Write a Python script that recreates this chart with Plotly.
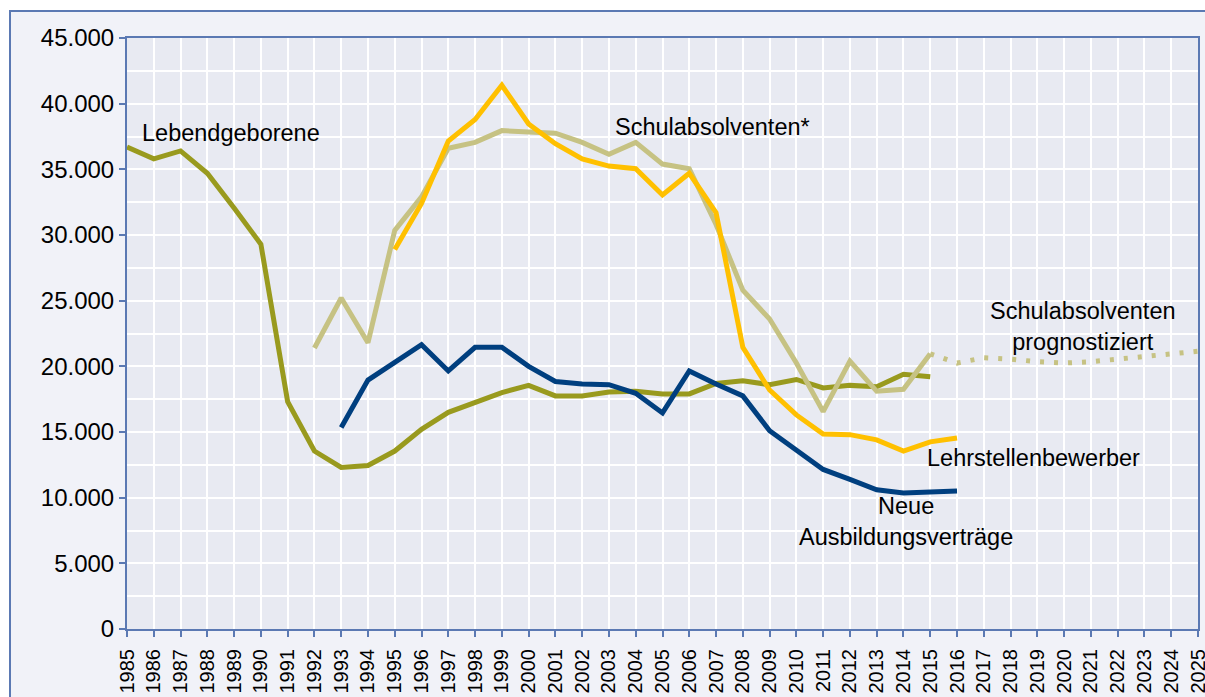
import plotly.graph_objs as go

# Jahre
years = list(range(1985, 2016))
years_prog = list(range(2015, 2026))

# Lebendgeborene 1985-2015
lebendgeborene = [36700, 35800, 36400, 34700, 32050, 29300, 17300, 13550, 12300, 12450,
                  13550, 15200, 16500, 17250, 18000, 18550, 17750, 17750, 18050, 18100,
                  17900, 17900, 18700, 18900, 18600, 19000, 18350, 18550, 18450, 19400,
                  19200]

# Schulabsolventen* 1992-2015
schul_years = list(range(1992, 2016))
schulabsolventen = [21400, 25200, 21800, 30350, 32900, 36600, 37050, 37950, 37850, 37750,
                    37050, 36150, 37050, 35400, 35050, 30800, 25800, 23600, 20250, 16550,
                    20400, 18100, 18250, 20950]

# Schulabsolventen prognostiziert 2015-2025
schul_prog = [20950, 20250, 20650, 20550, 20350, 20250, 20350, 20550, 20700, 20950, 21150]

# Lehrstellenbewerber 1995-2016
lehr_years = list(range(1995, 2017))
lehrstellenbewerber = [28900, 32400, 37150, 38800, 41400, 38450, 36950, 35800, 35250, 35050,
                       33050, 34700, 31700, 21450, 18200, 16300, 14850, 14800, 14400, 13550,
                       14250, 14550]

# Neue Ausbildungsverträge 1993-2016
neue_years = list(range(1993, 2017))
neue_vertraege = [15350, 18950, 20300, 21650, 19650, 21450, 21450, 20000, 18850, 18650,
                  18600, 17950, 16450, 19650, 18650, 17750, 15100, 13650, 12150, 11400,
                  10600, 10350, 10450, 10500]

olive = '#999A1E'
khaki = '#C6C283'
orange = '#FFC000'
navy = '#003F7F'
axis_blue = '#5B79B3'
font_fam = 'Liberation Sans, Arial, sans-serif'

data = []
data.append(go.Scatter(x=years, y=lebendgeborene, mode='lines',
                       name='Lebendgeborene', line=dict(color=olive, width=5)))
data.append(go.Scatter(x=schul_years, y=schulabsolventen, mode='lines',
                       name='Schulabsolventen*', line=dict(color=khaki, width=5)))
data.append(go.Scatter(x=years_prog, y=schul_prog, mode='lines',
                       name='Schulabsolventen prognostiziert',
                       line=dict(color=khaki, width=5, dash='4px,10px')))
data.append(go.Scatter(x=lehr_years, y=lehrstellenbewerber, mode='lines',
                       name='Lehrstellenbewerber', line=dict(color=orange, width=5)))
data.append(go.Scatter(x=neue_years, y=neue_vertraege, mode='lines',
                       name='Neue Ausbildungsverträge', line=dict(color=navy, width=5)))

# Beschriftungen direkt an den Linien
labels = [
    dict(x=1985.5, y=37800, text='Lebendgeborene', xanchor='left'),
    dict(x=2003.15, y=38250, text='Schulabsolventen*', xanchor='left'),
    dict(x=2020.7, y=23000, text='Schulabsolventen<br>prognostiziert', xanchor='center'),
    dict(x=2014.8, y=13000, text='Lehrstellenbewerber', xanchor='left'),
    dict(x=2014.1, y=8200, text='Neue<br>Ausbildungsverträge', xanchor='center'),
]
annotations = [dict(x=a['x'], y=a['y'], text=a['text'], xanchor=a['xanchor'],
                    yanchor='middle', xref='x', yref='y', showarrow=False,
                    font=dict(family=font_fam, size=23.5, color='black'))
               for a in labels]

# Rahmen und Hintergrund als Formen (px -> paper)
pw, ph = 1071.0, 591.0
shapes = [
    dict(type='rect', xref='paper', yref='paper', layer='below',
         x0=(10 - 127) / pw, x1=1.2, y0=-0.3, y1=(629 - 11) / ph,
         fillcolor='#F1F2F8', line=dict(color=axis_blue, width=2)),
    dict(type='rect', xref='paper', yref='paper', layer='below',
         x0=0, x1=1, y0=0, y1=1, fillcolor='#E8EAF2', line=dict(width=0)),
]

layout = dict(width=1205, height=697,
              margin=dict(l=127, r=7, t=38, b=68),
              paper_bgcolor='white', plot_bgcolor='rgba(0,0,0,0)',
              separators=',.',
              showlegend=False,
              font=dict(family=font_fam, color='black'),
              xaxis=dict(range=[1985, 2025], tickmode='array',
                         tickvals=list(range(1985, 2026)),
                         ticktext=[str(y) for y in range(1985, 2026)],
                         tickangle=-90, tickfont=dict(size=20),
                         ticklabelstandoff=4, ticklabeloverflow='allow',
                         automargin=False,
                         showgrid=True, gridcolor='white', gridwidth=2,
                         showline=True, linecolor=axis_blue, linewidth=2, mirror=True,
                         ticks='outside', ticklen=6, tickcolor=axis_blue, tickwidth=2,
                         zeroline=False),
              yaxis=dict(range=[0, 45000], dtick=5000, tickformat=',d',
                         tickfont=dict(size=24), automargin=False,
                         showgrid=True, gridcolor='white', gridwidth=2,
                         minor=dict(dtick=2500, showgrid=True, gridcolor='white', gridwidth=2),
                         showline=True, linecolor=axis_blue, linewidth=2, mirror=True,
                         ticks='outside', ticklen=6, tickcolor=axis_blue, tickwidth=2,
                         zeroline=False),
              annotations=annotations,
              shapes=shapes)

fig = go.Figure(data=data, layout=layout)
# Seitenrand des Browsers entfernen, damit die Grafik genau im Fenster sitzt
fig.write_html("out.html", config=dict(displayModeBar=False),
               post_script="document.body.style.margin='0';document.body.style.overflow='hidden';")
